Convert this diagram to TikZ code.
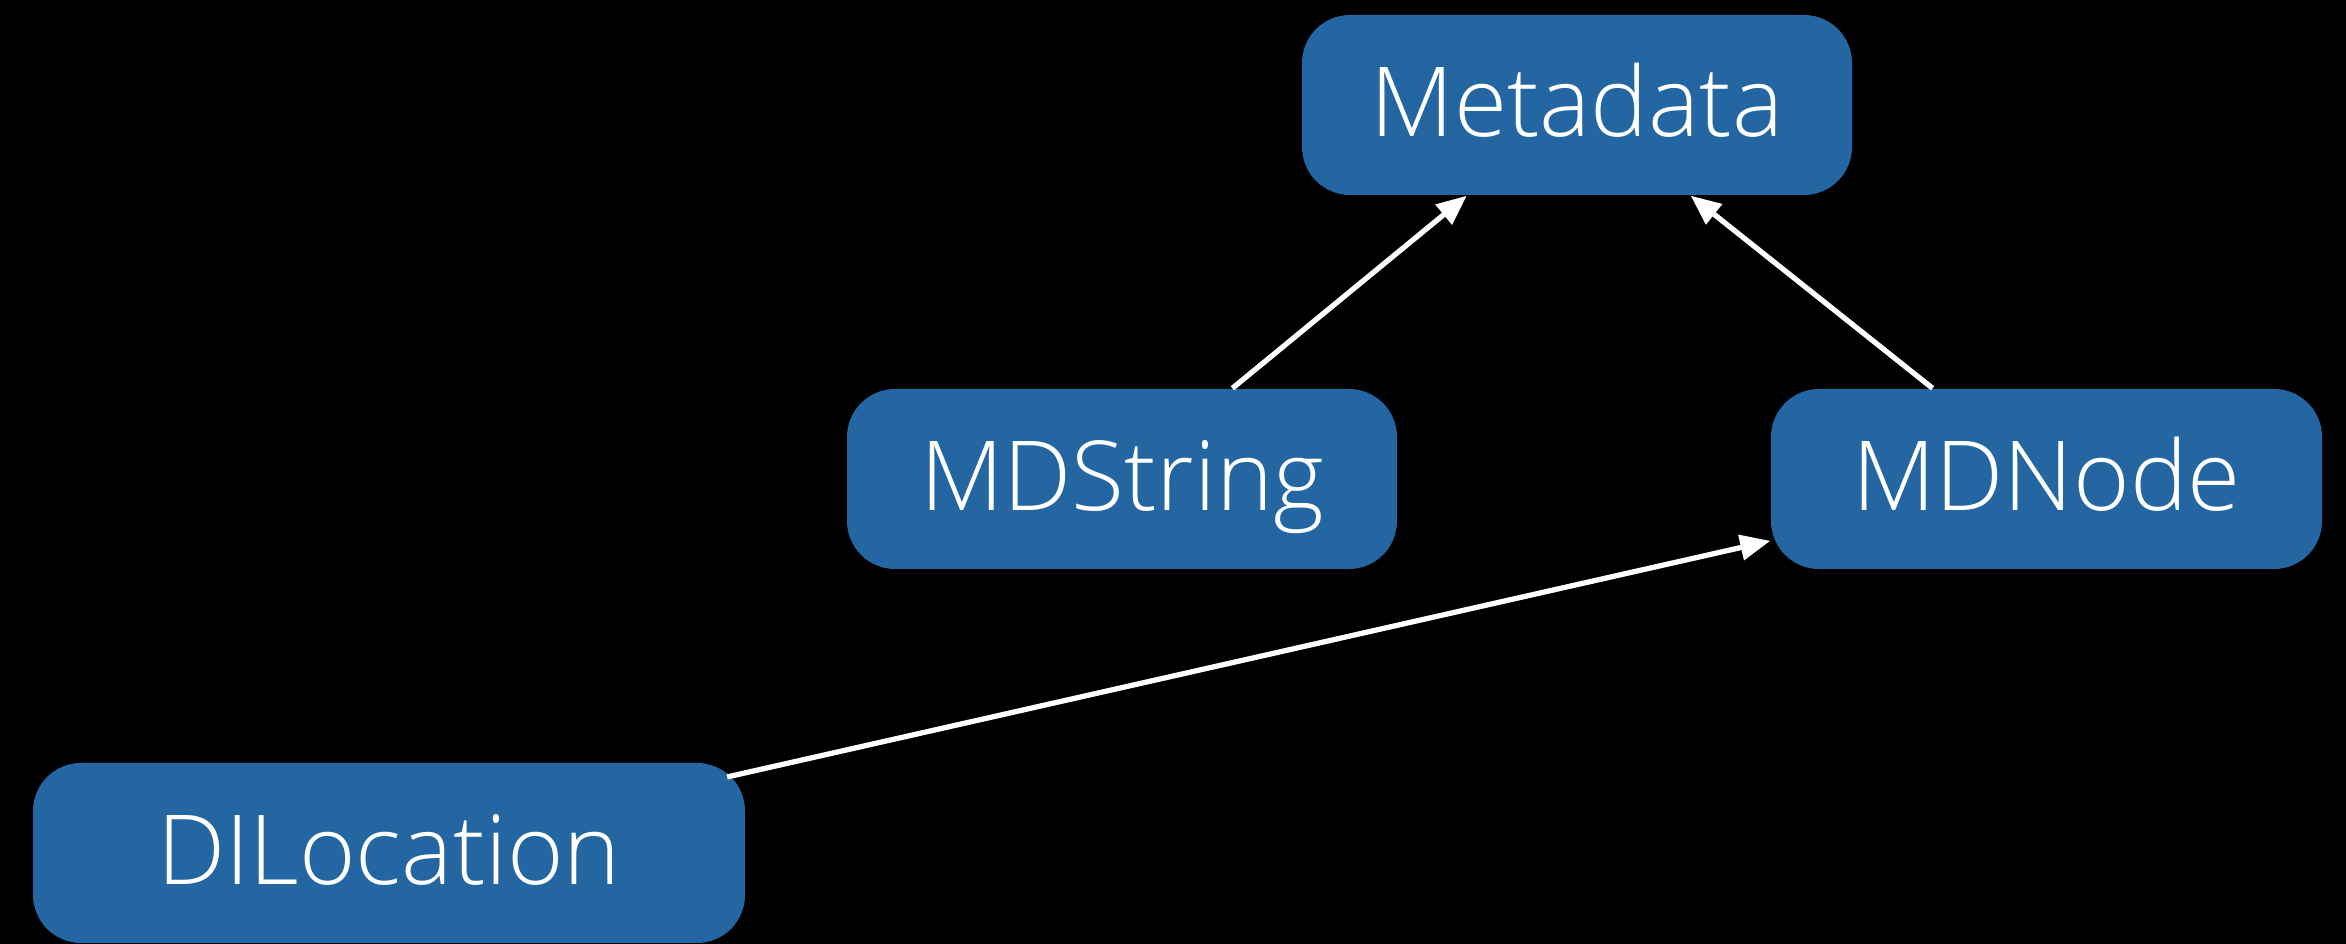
\documentclass[tikz,border=0pt]{standalone}
\usepackage{fontspec}
\setmainfont{Open Sans}[UprightFont={* Light}]
\usetikzlibrary{arrows.meta}
\definecolor{boxblue}{RGB}{36,102,161}
\begin{document}
\begin{tikzpicture}[
  cls/.style={draw=none, fill=boxblue, rounded corners=0.48cm,
    minimum height=1.8cm, inner sep=0pt, text=white,
    text height=19.6pt, text depth=1.5pt,
    font=\fontsize{27.5}{33}\selectfont},
  link/.style={draw=white, line width=1.5pt,
    -{Triangle[length=0.3cm, width=0.25cm]}}
]
  % canvas
  \fill[black] (0,0) rectangle (23.46,9.44);
  \useasboundingbox (0,0) rectangle (23.46,9.44);

  % classes
  \node[cls, minimum width=5.5cm]  (metadata) at (15.77,8.39) {Metadata};
  \node[cls, minimum width=5.5cm]  (mdstring) at (11.22,4.65) {MDString};
  \node[cls, minimum width=5.51cm] (mdnode)   at (20.465,4.65) {MDNode};
  \node[cls, minimum width=7.12cm] (dilocation) at (3.89,0.91) {DILocation};

  % inheritance links
  \draw[link] (mdstring) -- (metadata);
  \draw[link] (mdnode) -- (metadata);
  \draw[link, shorten <=-0.19cm] (dilocation) -- (mdnode);
\end{tikzpicture}
\end{document}
